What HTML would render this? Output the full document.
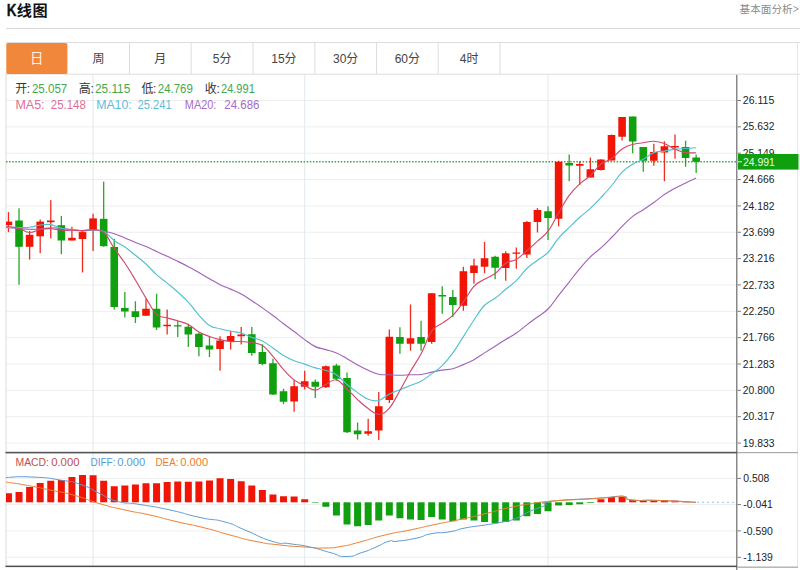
<!DOCTYPE html>
<html><head><meta charset="utf-8"><title>K</title>
<style>html,body{margin:0;padding:0;background:#fff;}body{width:800px;height:570px;overflow:hidden;font-family:"Liberation Sans",sans-serif;}svg{display:block}</style>
</head><body>
<svg width="800" height="570" viewBox="0 0 800 570">
<rect width="800" height="570" fill="#fff"/>
<text x="6.7" y="16.1" font-size="16" fill="#111" text-anchor="start" font-weight="bold" font-family="Liberation Sans, sans-serif" textLength="9.8" lengthAdjust="spacingAndGlyphs" stroke="#111" stroke-width="0.3">K</text>
<text x="16.8 32.6" y="16.3" font-size="15.2" fill="#111" text-anchor="start" font-weight="bold" font-family="'Liberation Sans', 'Noto Sans CJK SC', sans-serif">线图</text>
<text x="739.6" y="13.2" font-size="10.6" fill="#8a8a8a" text-anchor="start" font-weight="normal" font-family="'Liberation Sans', 'Noto Sans CJK SC', sans-serif" textLength="53" lengthAdjust="spacing">基本面分析</text>
<polyline fill="none" stroke="#8a8a8a" stroke-width="0.9" points="793.40,6.3 798.40,8.9 793.40,11.5"/>
<rect x="6" y="28" width="794" height="1" fill="#d9d9d9"/>
<rect x="5.5" y="42" width="794.5" height="1" fill="#dedede"/>
<rect x="5.5" y="73.7" width="794.5" height="1" fill="#dedede"/>
<rect x="67.0" y="42.5" width="1" height="31.5" fill="#dedede"/>
<rect x="129.0" y="42.5" width="1" height="31.5" fill="#dedede"/>
<rect x="190.7" y="42.5" width="1" height="31.5" fill="#dedede"/>
<rect x="252.5" y="42.5" width="1" height="31.5" fill="#dedede"/>
<rect x="314.3" y="42.5" width="1" height="31.5" fill="#dedede"/>
<rect x="376.0" y="42.5" width="1" height="31.5" fill="#dedede"/>
<rect x="437.7" y="42.5" width="1" height="31.5" fill="#dedede"/>
<rect x="499.5" y="42.5" width="1" height="31.5" fill="#dedede"/>
<rect x="797" y="42.5" width="1" height="524" fill="#e6e6e6"/>
<rect x="6.3" y="43" width="60.8" height="31" rx="1.6" fill="#f0873a"/>
<text x="30.05" y="62.7" font-size="13.4" fill="#fff4e6" text-anchor="start" font-weight="normal" font-family="'Liberation Sans', 'Noto Sans CJK SC', sans-serif">日</text>
<text x="92.5" y="62.6" font-size="12" fill="#444" text-anchor="start" font-weight="normal" font-family="'Liberation Sans', 'Noto Sans CJK SC', sans-serif">周</text>
<text x="154.35" y="62.6" font-size="12" fill="#444" text-anchor="start" font-weight="normal" font-family="'Liberation Sans', 'Noto Sans CJK SC', sans-serif">月</text>
<text x="212.76" y="62.8" font-size="12" fill="#444" text-anchor="start" font-weight="normal" font-family="Liberation Sans, sans-serif">5</text>
<text x="219.44" y="62.6" font-size="12" fill="#444" text-anchor="start" font-weight="normal" font-family="'Liberation Sans', 'Noto Sans CJK SC', sans-serif">分</text>
<text x="271.23" y="62.8" font-size="12" fill="#444" text-anchor="start" font-weight="normal" font-family="Liberation Sans, sans-serif">15</text>
<text x="284.57" y="62.6" font-size="12" fill="#444" text-anchor="start" font-weight="normal" font-family="'Liberation Sans', 'Noto Sans CJK SC', sans-serif">分</text>
<text x="332.98" y="62.8" font-size="12" fill="#444" text-anchor="start" font-weight="normal" font-family="Liberation Sans, sans-serif">30</text>
<text x="346.32" y="62.6" font-size="12" fill="#444" text-anchor="start" font-weight="normal" font-family="'Liberation Sans', 'Noto Sans CJK SC', sans-serif">分</text>
<text x="394.68" y="62.8" font-size="12" fill="#444" text-anchor="start" font-weight="normal" font-family="Liberation Sans, sans-serif">60</text>
<text x="408.02" y="62.6" font-size="12" fill="#444" text-anchor="start" font-weight="normal" font-family="'Liberation Sans', 'Noto Sans CJK SC', sans-serif">分</text>
<text x="459.76" y="62.8" font-size="12" fill="#444" text-anchor="start" font-weight="normal" font-family="Liberation Sans, sans-serif">4</text>
<text x="466.44" y="62.6" font-size="12" fill="#444" text-anchor="start" font-weight="normal" font-family="'Liberation Sans', 'Noto Sans CJK SC', sans-serif">时</text>
<rect x="6" y="100.00" width="731" height="1" fill="#eeeeee"/>
<rect x="6" y="126.35" width="731" height="1" fill="#eeeeee"/>
<rect x="6" y="152.70" width="731" height="1" fill="#eeeeee"/>
<rect x="6" y="179.05" width="731" height="1" fill="#eeeeee"/>
<rect x="6" y="205.40" width="731" height="1" fill="#eeeeee"/>
<rect x="6" y="231.75" width="731" height="1" fill="#eeeeee"/>
<rect x="6" y="258.10" width="731" height="1" fill="#eeeeee"/>
<rect x="6" y="284.45" width="731" height="1" fill="#eeeeee"/>
<rect x="6" y="310.80" width="731" height="1" fill="#eeeeee"/>
<rect x="6" y="337.15" width="731" height="1" fill="#eeeeee"/>
<rect x="6" y="363.50" width="731" height="1" fill="#eeeeee"/>
<rect x="6" y="389.85" width="731" height="1" fill="#eeeeee"/>
<rect x="6" y="416.20" width="731" height="1" fill="#eeeeee"/>
<rect x="6" y="442.55" width="731" height="1" fill="#eeeeee"/>
<rect x="6" y="477.90" width="731" height="1" fill="#eeeeee"/>
<rect x="6" y="504.10" width="731" height="1" fill="#eeeeee"/>
<rect x="6" y="530.40" width="731" height="1" fill="#eeeeee"/>
<rect x="6" y="556.80" width="731" height="1" fill="#eeeeee"/>
<rect x="92.59" y="74" width="1" height="493" fill="#dfe9ee"/>
<rect x="304.19" y="74" width="1" height="493" fill="#dfe9ee"/>
<rect x="547.53" y="74" width="1" height="493" fill="#dfe9ee"/>
<rect x="5.5" y="74" width="1" height="493" fill="#dcdcdc"/>
<text x="15.2" y="93.3" font-size="12" fill="#333" text-anchor="start" font-weight="normal" font-family="'Liberation Sans', 'Noto Sans CJK SC', sans-serif">开</text>
<text x="26.799999999999997" y="93.3" font-size="12" fill="#333" text-anchor="start" font-weight="normal" font-family="Liberation Sans, sans-serif">:</text>
<text x="31.9" y="93.4" font-size="12" fill="#46a84e" text-anchor="start" font-weight="normal" font-family="Liberation Sans, sans-serif" textLength="35.4" lengthAdjust="spacingAndGlyphs">25.057</text>
<text x="78.8" y="93.3" font-size="12" fill="#333" text-anchor="start" font-weight="normal" font-family="'Liberation Sans', 'Noto Sans CJK SC', sans-serif">高</text>
<text x="90.39999999999999" y="93.3" font-size="12" fill="#333" text-anchor="start" font-weight="normal" font-family="Liberation Sans, sans-serif">:</text>
<text x="94.9" y="93.4" font-size="12" fill="#46a84e" text-anchor="start" font-weight="normal" font-family="Liberation Sans, sans-serif" textLength="35.4" lengthAdjust="spacingAndGlyphs">25.115</text>
<text x="141.5" y="93.3" font-size="12" fill="#333" text-anchor="start" font-weight="normal" font-family="'Liberation Sans', 'Noto Sans CJK SC', sans-serif">低</text>
<text x="153.1" y="93.3" font-size="12" fill="#333" text-anchor="start" font-weight="normal" font-family="Liberation Sans, sans-serif">:</text>
<text x="157.8" y="93.4" font-size="12" fill="#46a84e" text-anchor="start" font-weight="normal" font-family="Liberation Sans, sans-serif" textLength="35.0" lengthAdjust="spacingAndGlyphs">24.769</text>
<text x="204.8" y="93.3" font-size="12" fill="#333" text-anchor="start" font-weight="normal" font-family="'Liberation Sans', 'Noto Sans CJK SC', sans-serif">收</text>
<text x="216.4" y="93.3" font-size="12" fill="#333" text-anchor="start" font-weight="normal" font-family="Liberation Sans, sans-serif">:</text>
<text x="221.0" y="93.4" font-size="12" fill="#46a84e" text-anchor="start" font-weight="normal" font-family="Liberation Sans, sans-serif" textLength="33.8" lengthAdjust="spacingAndGlyphs">24.991</text>
<text x="15.4" y="109.3" font-size="12" fill="#dd6f96" text-anchor="start" font-weight="normal" font-family="Liberation Sans, sans-serif" textLength="29.2" lengthAdjust="spacingAndGlyphs">MA5:</text>
<text x="50.8" y="109.3" font-size="12" fill="#dd6f96" text-anchor="start" font-weight="normal" font-family="Liberation Sans, sans-serif" textLength="35" lengthAdjust="spacingAndGlyphs">25.148</text>
<text x="96.2" y="109.3" font-size="12" fill="#5fbcd8" text-anchor="start" font-weight="normal" font-family="Liberation Sans, sans-serif" textLength="35.5" lengthAdjust="spacingAndGlyphs">MA10:</text>
<text x="137.5" y="109.3" font-size="12" fill="#5fbcd8" text-anchor="start" font-weight="normal" font-family="Liberation Sans, sans-serif" textLength="34.2" lengthAdjust="spacingAndGlyphs">25.241</text>
<text x="184.8" y="109.3" font-size="12" fill="#a56cc4" text-anchor="start" font-weight="normal" font-family="Liberation Sans, sans-serif" textLength="31.6" lengthAdjust="spacingAndGlyphs">MA20:</text>
<text x="224.3" y="109.3" font-size="12" fill="#a56cc4" text-anchor="start" font-weight="normal" font-family="Liberation Sans, sans-serif" textLength="35.1" lengthAdjust="spacingAndGlyphs">24.686</text>
<clipPath id="c"><rect x="6" y="74" width="731" height="493"/></clipPath>
<g clip-path="url(#c)">
<line x1="6" y1="161.8" x2="737" y2="161.8" stroke="#3aa83a" stroke-width="1.4" stroke-dasharray="1.5 1.6"/>
<rect x="7.80" y="212.10" width="1.3" height="20.00" fill="#f01505" fill-opacity="0.9"/>
<rect x="4.65" y="221.60" width="7.6" height="3.60" fill="#f01505"/>
<rect x="18.38" y="208.30" width="1.3" height="76.40" fill="#0f9f0f" fill-opacity="0.9"/>
<rect x="15.23" y="220.50" width="7.6" height="26.30" fill="#0f9f0f"/>
<rect x="28.96" y="231.00" width="1.3" height="28.50" fill="#f01505" fill-opacity="0.9"/>
<rect x="25.81" y="234.80" width="7.6" height="12.00" fill="#f01505"/>
<rect x="39.54" y="219.50" width="1.3" height="33.70" fill="#f01505" fill-opacity="0.9"/>
<rect x="36.39" y="221.60" width="7.6" height="14.70" fill="#f01505"/>
<rect x="50.12" y="200.10" width="1.3" height="38.30" fill="#f01505" fill-opacity="0.9"/>
<rect x="46.97" y="220.50" width="7.6" height="1.70" fill="#f01505"/>
<rect x="60.70" y="215.90" width="1.3" height="38.30" fill="#0f9f0f" fill-opacity="0.9"/>
<rect x="57.55" y="225.20" width="7.6" height="15.30" fill="#0f9f0f"/>
<rect x="71.28" y="226.80" width="1.3" height="13.70" fill="#f01505" fill-opacity="0.9"/>
<rect x="68.13" y="237.80" width="7.6" height="2.70" fill="#f01505"/>
<rect x="81.86" y="230.00" width="1.3" height="42.50" fill="#f01505" fill-opacity="0.9"/>
<rect x="78.71" y="232.10" width="7.6" height="6.90" fill="#f01505"/>
<rect x="92.44" y="213.80" width="1.3" height="37.20" fill="#f01505" fill-opacity="0.9"/>
<rect x="89.29" y="218.40" width="7.6" height="11.60" fill="#f01505"/>
<rect x="103.02" y="181.60" width="1.3" height="65.20" fill="#0f9f0f" fill-opacity="0.9"/>
<rect x="99.87" y="218.80" width="7.6" height="27.40" fill="#0f9f0f"/>
<rect x="113.60" y="238.75" width="1.3" height="70.75" fill="#0f9f0f" fill-opacity="0.9"/>
<rect x="110.45" y="247.00" width="7.6" height="60.00" fill="#0f9f0f"/>
<rect x="124.18" y="292.00" width="1.3" height="25.50" fill="#0f9f0f" fill-opacity="0.9"/>
<rect x="121.03" y="308.00" width="7.6" height="3.50" fill="#0f9f0f"/>
<rect x="134.76" y="301.25" width="1.3" height="21.75" fill="#0f9f0f" fill-opacity="0.9"/>
<rect x="131.61" y="311.25" width="7.6" height="5.75" fill="#0f9f0f"/>
<rect x="145.34" y="298.75" width="1.3" height="17.00" fill="#f01505" fill-opacity="0.9"/>
<rect x="142.19" y="308.75" width="7.6" height="7.00" fill="#f01505"/>
<rect x="155.92" y="293.75" width="1.3" height="36.25" fill="#0f9f0f" fill-opacity="0.9"/>
<rect x="152.77" y="308.75" width="7.6" height="18.75" fill="#0f9f0f"/>
<rect x="166.50" y="309.50" width="1.3" height="25.00" fill="#f01505" fill-opacity="0.9"/>
<rect x="163.35" y="324.75" width="7.6" height="1.50" fill="#f01505"/>
<rect x="177.08" y="321.25" width="1.3" height="15.75" fill="#0f9f0f" fill-opacity="0.9"/>
<rect x="173.93" y="325.25" width="7.6" height="1.25" fill="#0f9f0f"/>
<rect x="187.66" y="323.75" width="1.3" height="23.25" fill="#0f9f0f" fill-opacity="0.9"/>
<rect x="184.51" y="326.75" width="7.6" height="7.75" fill="#0f9f0f"/>
<rect x="198.24" y="332.50" width="1.3" height="23.75" fill="#0f9f0f" fill-opacity="0.9"/>
<rect x="195.09" y="333.75" width="7.6" height="13.25" fill="#0f9f0f"/>
<rect x="208.82" y="336.25" width="1.3" height="20.75" fill="#0f9f0f" fill-opacity="0.9"/>
<rect x="205.67" y="345.50" width="7.6" height="4.00" fill="#0f9f0f"/>
<rect x="219.40" y="336.25" width="1.3" height="34.50" fill="#f01505" fill-opacity="0.9"/>
<rect x="216.25" y="340.50" width="7.6" height="8.50" fill="#f01505"/>
<rect x="229.98" y="330.75" width="1.3" height="18.75" fill="#f01505" fill-opacity="0.9"/>
<rect x="226.83" y="336.00" width="7.6" height="5.25" fill="#f01505"/>
<rect x="240.56" y="327.00" width="1.3" height="17.50" fill="#f01505" fill-opacity="0.9"/>
<rect x="237.41" y="334.50" width="7.6" height="1.75" fill="#f01505"/>
<rect x="251.14" y="327.00" width="1.3" height="28.75" fill="#0f9f0f" fill-opacity="0.9"/>
<rect x="247.99" y="334.25" width="7.6" height="18.75" fill="#0f9f0f"/>
<rect x="261.72" y="344.25" width="1.3" height="21.00" fill="#0f9f0f" fill-opacity="0.9"/>
<rect x="258.57" y="352.00" width="7.6" height="12.00" fill="#0f9f0f"/>
<rect x="272.30" y="358.75" width="1.3" height="36.25" fill="#0f9f0f" fill-opacity="0.9"/>
<rect x="269.15" y="363.25" width="7.6" height="31.25" fill="#0f9f0f"/>
<rect x="282.88" y="388.75" width="1.3" height="15.50" fill="#0f9f0f" fill-opacity="0.9"/>
<rect x="279.73" y="391.25" width="7.6" height="10.50" fill="#0f9f0f"/>
<rect x="293.46" y="380.00" width="1.3" height="31.75" fill="#f01505" fill-opacity="0.9"/>
<rect x="290.31" y="386.25" width="7.6" height="15.25" fill="#f01505"/>
<rect x="304.04" y="370.75" width="1.3" height="18.75" fill="#f01505" fill-opacity="0.9"/>
<rect x="300.89" y="381.25" width="7.6" height="5.50" fill="#f01505"/>
<rect x="314.62" y="379.50" width="1.3" height="18.50" fill="#0f9f0f" fill-opacity="0.9"/>
<rect x="311.47" y="381.75" width="7.6" height="5.00" fill="#0f9f0f"/>
<rect x="325.20" y="365.50" width="1.3" height="22.50" fill="#f01505" fill-opacity="0.9"/>
<rect x="322.05" y="366.25" width="7.6" height="21.00" fill="#f01505"/>
<rect x="335.78" y="363.75" width="1.3" height="17.00" fill="#0f9f0f" fill-opacity="0.9"/>
<rect x="332.63" y="365.50" width="7.6" height="13.25" fill="#0f9f0f"/>
<rect x="346.36" y="372.50" width="1.3" height="60.50" fill="#0f9f0f" fill-opacity="0.9"/>
<rect x="343.21" y="378.00" width="7.6" height="54.25" fill="#0f9f0f"/>
<rect x="356.94" y="422.50" width="1.3" height="17.00" fill="#0f9f0f" fill-opacity="0.9"/>
<rect x="353.79" y="430.50" width="7.6" height="3.75" fill="#0f9f0f"/>
<rect x="367.52" y="418.75" width="1.3" height="17.00" fill="#f01505" fill-opacity="0.9"/>
<rect x="364.37" y="431.25" width="7.6" height="2.50" fill="#f01505"/>
<rect x="378.10" y="392.00" width="1.3" height="48.00" fill="#f01505" fill-opacity="0.9"/>
<rect x="374.95" y="406.25" width="7.6" height="24.25" fill="#f01505"/>
<rect x="388.68" y="329.50" width="1.3" height="73.50" fill="#f01505" fill-opacity="0.9"/>
<rect x="385.53" y="336.75" width="7.6" height="63.25" fill="#f01505"/>
<rect x="399.26" y="327.25" width="1.3" height="26.50" fill="#0f9f0f" fill-opacity="0.9"/>
<rect x="396.11" y="337.00" width="7.6" height="6.75" fill="#0f9f0f"/>
<rect x="409.84" y="304.50" width="1.3" height="46.25" fill="#f01505" fill-opacity="0.9"/>
<rect x="406.69" y="338.25" width="7.6" height="5.50" fill="#f01505"/>
<rect x="420.42" y="320.75" width="1.3" height="30.00" fill="#0f9f0f" fill-opacity="0.9"/>
<rect x="417.27" y="337.00" width="7.6" height="6.75" fill="#0f9f0f"/>
<rect x="431.00" y="293.00" width="1.3" height="50.75" fill="#f01505" fill-opacity="0.9"/>
<rect x="427.85" y="293.25" width="7.6" height="48.75" fill="#f01505"/>
<rect x="441.58" y="286.25" width="1.3" height="27.50" fill="#0f9f0f" fill-opacity="0.9"/>
<rect x="438.43" y="295.00" width="7.6" height="1.50" fill="#0f9f0f"/>
<rect x="452.16" y="290.00" width="1.3" height="27.00" fill="#0f9f0f" fill-opacity="0.9"/>
<rect x="449.01" y="297.00" width="7.6" height="8.00" fill="#0f9f0f"/>
<rect x="462.74" y="266.75" width="1.3" height="44.00" fill="#f01505" fill-opacity="0.9"/>
<rect x="459.59" y="271.25" width="7.6" height="34.50" fill="#f01505"/>
<rect x="473.32" y="258.75" width="1.3" height="25.00" fill="#f01505" fill-opacity="0.9"/>
<rect x="470.17" y="265.50" width="7.6" height="7.50" fill="#f01505"/>
<rect x="483.90" y="242.00" width="1.3" height="31.25" fill="#f01505" fill-opacity="0.9"/>
<rect x="480.75" y="258.25" width="7.6" height="8.50" fill="#f01505"/>
<rect x="494.48" y="255.75" width="1.3" height="23.50" fill="#0f9f0f" fill-opacity="0.9"/>
<rect x="491.33" y="256.75" width="7.6" height="11.00" fill="#0f9f0f"/>
<rect x="505.06" y="251.25" width="1.3" height="29.50" fill="#f01505" fill-opacity="0.9"/>
<rect x="501.91" y="253.25" width="7.6" height="14.75" fill="#f01505"/>
<rect x="515.64" y="247.50" width="1.3" height="21.25" fill="#f01505" fill-opacity="0.9"/>
<rect x="512.49" y="252.50" width="7.6" height="1.25" fill="#f01505"/>
<rect x="526.22" y="221.00" width="1.3" height="37.00" fill="#f01505" fill-opacity="0.9"/>
<rect x="523.07" y="222.00" width="7.6" height="32.50" fill="#f01505"/>
<rect x="536.80" y="208.00" width="1.3" height="24.50" fill="#f01505" fill-opacity="0.9"/>
<rect x="533.65" y="210.00" width="7.6" height="12.00" fill="#f01505"/>
<rect x="547.38" y="206.25" width="1.3" height="33.75" fill="#0f9f0f" fill-opacity="0.9"/>
<rect x="544.23" y="211.25" width="7.6" height="6.75" fill="#0f9f0f"/>
<rect x="557.96" y="160.75" width="1.3" height="65.50" fill="#f01505" fill-opacity="0.9"/>
<rect x="554.81" y="161.75" width="7.6" height="57.00" fill="#f01505"/>
<rect x="568.54" y="154.50" width="1.3" height="26.75" fill="#0f9f0f" fill-opacity="0.9"/>
<rect x="565.39" y="163.00" width="7.6" height="2.50" fill="#0f9f0f"/>
<rect x="579.12" y="161.25" width="1.3" height="23.75" fill="#f01505" fill-opacity="0.9"/>
<rect x="575.97" y="164.00" width="7.6" height="1.75" fill="#f01505"/>
<rect x="589.70" y="157.50" width="1.3" height="20.00" fill="#f01505" fill-opacity="0.9"/>
<rect x="586.55" y="169.25" width="7.6" height="8.25" fill="#f01505"/>
<rect x="600.28" y="159.25" width="1.3" height="11.25" fill="#f01505" fill-opacity="0.9"/>
<rect x="597.13" y="159.50" width="7.6" height="10.50" fill="#f01505"/>
<rect x="610.86" y="134.50" width="1.3" height="26.00" fill="#f01505" fill-opacity="0.9"/>
<rect x="607.71" y="135.00" width="7.6" height="25.50" fill="#f01505"/>
<rect x="621.44" y="117.00" width="1.3" height="23.50" fill="#f01505" fill-opacity="0.9"/>
<rect x="618.29" y="117.00" width="7.6" height="19.75" fill="#f01505"/>
<rect x="632.02" y="116.50" width="1.3" height="36.75" fill="#0f9f0f" fill-opacity="0.9"/>
<rect x="628.87" y="116.50" width="7.6" height="25.00" fill="#0f9f0f"/>
<rect x="642.60" y="147.00" width="1.3" height="24.75" fill="#0f9f0f" fill-opacity="0.9"/>
<rect x="639.45" y="147.00" width="7.6" height="13.75" fill="#0f9f0f"/>
<rect x="653.18" y="143.75" width="1.3" height="22.00" fill="#f01505" fill-opacity="0.9"/>
<rect x="650.03" y="152.00" width="7.6" height="8.75" fill="#f01505"/>
<rect x="663.76" y="141.25" width="1.3" height="40.00" fill="#f01505" fill-opacity="0.9"/>
<rect x="660.61" y="146.25" width="7.6" height="6.25" fill="#f01505"/>
<rect x="674.34" y="134.50" width="1.3" height="24.25" fill="#f01505" fill-opacity="0.9"/>
<rect x="671.19" y="146.00" width="7.6" height="1.50" fill="#f01505"/>
<rect x="684.92" y="140.75" width="1.3" height="26.00" fill="#0f9f0f" fill-opacity="0.9"/>
<rect x="681.77" y="147.00" width="7.6" height="11.00" fill="#0f9f0f"/>
<rect x="695.50" y="154.50" width="1.3" height="18.50" fill="#0f9f0f" fill-opacity="0.9"/>
<rect x="692.35" y="157.50" width="7.6" height="4.25" fill="#0f9f0f"/>
<path fill="none" stroke="#a362ba" stroke-width="1.15" d="M6.00,227.50C6.49,227.52 5.84,227.40 8.45,227.60C11.06,227.80 14.80,228.16 19.03,228.50C23.26,228.84 25.38,229.20 29.61,229.30C33.84,229.40 35.96,229.30 40.19,229.00C44.42,228.70 46.54,227.90 50.77,227.80C55.00,227.70 57.12,228.14 61.35,228.50C65.58,228.86 67.70,229.18 71.93,229.60C76.16,230.02 78.28,230.48 82.51,230.60C86.74,230.72 88.86,230.08 93.09,230.20C97.32,230.32 99.44,230.49 103.67,231.20C107.90,231.91 110.02,232.39 114.25,233.74C118.48,235.09 120.60,236.20 124.83,237.94C129.06,239.68 131.18,240.71 135.41,242.42C139.64,244.12 141.76,244.67 145.99,246.48C150.22,248.29 152.34,249.50 156.57,251.48C160.80,253.45 162.92,254.38 167.15,256.34C171.38,258.30 173.50,259.23 177.73,261.29C181.96,263.35 184.08,264.38 188.31,266.64C192.54,268.90 194.66,270.20 198.89,272.62C203.12,275.03 205.24,276.31 209.47,278.72C213.70,281.12 215.82,282.58 220.05,284.66C224.28,286.74 226.40,287.23 230.63,289.12C234.86,291.01 236.98,291.79 241.21,294.11C245.44,296.42 247.56,297.93 251.79,300.68C256.02,303.42 258.14,304.88 262.37,307.85C266.60,310.83 268.72,312.37 272.95,315.55C277.18,318.73 279.30,320.57 283.53,323.75C287.76,326.93 289.88,328.29 294.11,331.46C298.34,334.63 300.46,336.56 304.69,339.60C308.92,342.63 311.04,344.63 315.27,346.62C319.50,348.62 321.62,348.32 325.85,349.59C330.08,350.85 332.20,351.12 336.43,352.95C340.66,354.77 342.78,356.30 347.01,358.71C351.24,361.12 353.36,362.69 357.59,364.99C361.82,367.28 363.94,368.32 368.17,370.18C372.40,372.03 374.52,373.33 378.75,374.25C382.98,375.17 385.10,374.57 389.33,374.76C393.56,374.96 395.68,375.22 399.91,375.23C404.14,375.23 406.26,374.93 410.49,374.79C414.72,374.64 416.84,375.03 421.07,374.50C425.30,373.97 427.42,373.00 431.65,372.14C435.88,371.27 438.00,370.85 442.23,370.16C446.46,369.47 448.58,369.80 452.81,368.69C457.04,367.57 459.16,366.40 463.39,364.60C467.62,362.80 469.74,362.02 473.97,359.68C478.20,357.33 480.32,355.56 484.55,352.86C488.78,350.16 490.90,348.83 495.13,346.16C499.36,343.49 501.48,342.13 505.71,339.51C509.94,336.89 512.06,336.01 516.29,333.07C520.52,330.14 522.64,328.05 526.87,324.84C531.10,321.63 533.22,320.19 537.45,317.02C541.68,313.85 543.80,313.30 548.03,308.99C552.26,304.68 554.38,300.85 558.61,295.46C562.84,290.07 564.96,287.38 569.19,282.02C573.42,276.66 575.54,273.71 579.77,268.66C584.00,263.62 586.12,260.95 590.35,256.81C594.58,252.67 596.70,251.81 600.93,247.95C605.16,244.09 607.28,241.81 611.51,237.51C615.74,233.21 617.86,230.68 622.09,226.45C626.32,222.22 628.44,219.69 632.67,216.34C636.90,212.99 639.02,212.48 643.25,209.71C647.48,206.94 649.60,205.52 653.83,202.49C658.06,199.46 660.18,197.39 664.41,194.55C668.64,191.71 670.76,190.62 674.99,188.29C679.22,185.96 681.34,184.95 685.57,182.91C689.80,180.87 694.03,179.05 696.15,178.09"/>
<path fill="none" stroke="#52c0d0" stroke-width="1.15" d="M6.00,227.50C6.49,227.46 5.84,227.30 8.45,227.30C11.06,227.30 14.80,227.50 19.03,227.50C23.26,227.50 25.38,227.80 29.61,227.30C33.84,226.80 35.96,225.54 40.19,225.00C44.42,224.46 46.54,223.94 50.77,224.60C55.00,225.26 57.12,227.26 61.35,228.30C65.58,229.34 67.70,229.34 71.93,229.80C76.16,230.26 78.28,230.50 82.51,230.60C86.74,230.70 88.86,230.10 93.09,230.30C97.32,230.50 99.44,229.55 103.67,231.60C107.90,233.65 110.02,237.48 114.25,240.57C118.48,243.66 120.60,244.10 124.83,247.04C129.06,249.98 131.18,251.87 135.41,255.26C139.64,258.65 141.76,260.09 145.99,263.98C150.22,267.86 152.34,270.85 156.57,274.68C160.80,278.50 162.92,279.64 167.15,283.10C171.38,286.56 173.50,288.15 177.73,291.97C181.96,295.79 184.08,297.59 188.31,302.21C192.54,306.83 194.66,310.43 198.89,315.07C203.12,319.71 205.24,322.66 209.47,325.40C213.70,328.14 215.82,327.59 220.05,328.75C224.28,329.91 226.40,330.36 230.63,331.20C234.86,332.04 236.98,331.71 241.21,332.95C245.44,334.19 247.56,335.76 251.79,337.38C256.02,338.99 258.14,338.90 262.37,341.02C266.60,343.15 268.72,345.10 272.95,348.00C277.18,350.90 279.30,352.98 283.53,355.52C287.76,358.06 289.88,358.98 294.11,360.70C298.34,362.42 300.46,362.69 304.69,364.12C308.92,365.56 311.04,366.59 315.27,367.85C319.50,369.11 321.62,369.06 325.85,370.43C330.08,371.80 332.20,371.89 336.43,374.70C340.66,377.51 342.78,380.90 347.01,384.48C351.24,388.06 353.36,389.63 357.59,392.60C361.82,395.57 363.94,397.75 368.17,399.32C372.40,400.90 374.52,401.56 378.75,400.50C382.98,399.44 385.10,396.15 389.33,394.00C393.56,391.85 395.68,391.46 399.91,389.75C404.14,388.04 406.26,387.17 410.49,385.45C414.72,383.73 416.84,383.47 421.07,381.15C425.30,378.83 427.42,376.96 431.65,373.85C435.88,370.75 438.00,369.81 442.23,365.62C446.46,361.44 448.58,358.70 452.81,352.90C457.04,347.09 459.16,343.18 463.39,336.60C467.62,330.03 469.74,326.30 473.97,320.02C478.20,313.75 480.32,309.56 484.55,305.23C488.78,300.89 490.90,301.51 495.13,298.32C499.36,295.13 501.48,292.80 505.71,289.27C509.94,285.75 512.06,284.85 516.29,280.70C520.52,276.55 522.64,272.62 526.87,268.52C531.10,264.42 533.22,263.44 537.45,260.20C541.68,256.96 543.80,256.78 548.03,252.35C552.26,247.91 554.38,243.00 558.61,238.03C562.84,233.05 564.96,231.59 569.19,227.45C573.42,223.30 575.54,221.11 579.77,217.30C584.00,213.49 586.12,212.34 590.35,208.40C594.58,204.46 596.70,202.10 600.93,197.57C605.16,193.04 607.28,190.82 611.51,185.75C615.74,180.68 617.86,176.52 622.09,172.20C626.32,167.88 628.44,166.75 632.67,164.15C636.90,161.56 639.02,161.53 643.25,159.22C647.48,156.92 649.60,154.25 653.83,152.62C658.06,151.00 660.18,151.77 664.41,151.07C668.64,150.38 670.76,149.63 674.99,149.12C679.22,148.62 681.34,148.80 685.57,148.53C689.80,148.25 694.03,147.93 696.15,147.78"/>
<path fill="none" stroke="#d04a6a" stroke-width="1.15" d="M6.00,227.50C6.49,227.30 5.84,226.30 8.45,226.50C11.06,226.70 14.80,227.30 19.03,228.50C23.26,229.70 25.38,232.30 29.61,232.50C33.84,232.70 35.96,230.26 40.19,229.50C44.42,228.74 46.54,228.54 50.77,228.70C55.00,228.86 57.12,230.00 61.35,230.30C65.58,230.60 67.70,230.14 71.93,230.20C76.16,230.26 78.28,230.68 82.51,230.60C86.74,230.52 88.86,229.46 93.09,229.80C97.32,230.14 99.44,228.60 103.67,232.30C107.90,236.00 110.02,242.15 114.25,248.30C118.48,254.45 120.60,256.70 124.83,263.04C129.06,269.38 131.18,273.01 135.41,280.02C139.64,287.03 141.76,291.22 145.99,298.09C150.22,304.96 152.34,310.39 156.57,314.35C160.80,318.31 162.92,316.59 167.15,317.90C171.38,319.21 173.50,319.60 177.73,320.90C181.96,322.20 184.08,322.17 188.31,324.40C192.54,326.63 194.66,329.64 198.89,332.05C203.12,334.46 205.24,334.94 209.47,336.45C213.70,337.96 215.82,338.59 220.05,339.60C224.28,340.61 226.40,341.12 230.63,341.50C234.86,341.88 236.98,341.26 241.21,341.50C245.44,341.74 247.56,341.88 251.79,342.70C256.02,343.52 258.14,342.86 262.37,345.60C266.60,348.34 268.72,351.61 272.95,356.40C277.18,361.19 279.30,364.85 283.53,369.55C287.76,374.25 289.88,376.70 294.11,379.90C298.34,383.10 300.46,383.51 304.69,385.55C308.92,387.59 311.04,390.32 315.27,390.10C319.50,389.88 321.62,386.50 325.85,384.45C330.08,382.40 332.20,378.93 336.43,379.85C340.66,380.77 342.78,385.09 347.01,389.05C351.24,393.01 353.36,395.75 357.59,399.65C361.82,403.55 363.94,405.62 368.17,408.55C372.40,411.48 374.52,414.38 378.75,414.30C382.98,414.22 385.10,412.92 389.33,408.15C393.56,403.38 395.68,397.83 399.91,390.45C404.14,383.07 406.26,378.59 410.49,371.25C414.72,363.91 416.84,361.77 421.07,353.75C425.30,345.73 427.42,337.28 431.65,331.15C435.88,325.02 438.00,326.26 442.23,323.10C446.46,319.94 448.58,319.58 452.81,315.35C457.04,311.12 459.16,307.76 463.39,301.95C467.62,296.14 469.74,290.83 473.97,286.30C478.20,281.77 480.32,281.85 484.55,279.30C488.78,276.75 490.90,276.77 495.13,273.55C499.36,270.33 501.48,266.02 505.71,263.20C509.94,260.38 512.06,261.94 516.29,259.45C520.52,256.96 522.64,254.42 526.87,250.75C531.10,247.08 533.22,245.02 537.45,241.10C541.68,237.18 543.80,236.80 548.03,231.15C552.26,225.50 554.38,219.99 558.61,212.85C562.84,205.71 564.96,201.25 569.19,195.45C573.42,189.65 575.54,187.80 579.77,183.85C584.00,179.90 586.12,179.67 590.35,175.70C594.58,171.73 596.70,167.41 600.93,164.00C605.16,160.59 607.28,161.66 611.51,158.65C615.74,155.64 617.86,151.79 622.09,148.95C626.32,146.11 628.44,145.69 632.67,144.45C636.90,143.21 639.02,143.39 643.25,142.75C647.48,142.11 649.60,141.10 653.83,141.25C658.06,141.40 660.18,141.89 664.41,143.50C668.64,145.11 670.76,147.48 674.99,149.30C679.22,151.12 681.34,151.90 685.57,152.60C689.80,153.30 694.03,152.76 696.15,152.80"/>
<rect x="4.95" y="493.25" width="7.0" height="9.05" fill="#f01505"/>
<rect x="15.53" y="492.00" width="7.0" height="10.30" fill="#f01505"/>
<rect x="26.11" y="487.00" width="7.0" height="15.30" fill="#f01505"/>
<rect x="36.69" y="483.00" width="7.0" height="19.30" fill="#f01505"/>
<rect x="47.27" y="480.75" width="7.0" height="21.55" fill="#f01505"/>
<rect x="57.85" y="480.00" width="7.0" height="22.30" fill="#f01505"/>
<rect x="68.43" y="477.00" width="7.0" height="25.30" fill="#f01505"/>
<rect x="79.01" y="475.00" width="7.0" height="27.30" fill="#f01505"/>
<rect x="89.59" y="475.25" width="7.0" height="27.05" fill="#f01505"/>
<rect x="100.17" y="480.75" width="7.0" height="21.55" fill="#f01505"/>
<rect x="110.75" y="486.25" width="7.0" height="16.05" fill="#f01505"/>
<rect x="121.33" y="485.50" width="7.0" height="16.80" fill="#f01505"/>
<rect x="131.91" y="484.50" width="7.0" height="17.80" fill="#f01505"/>
<rect x="142.49" y="483.25" width="7.0" height="19.05" fill="#f01505"/>
<rect x="153.07" y="483.25" width="7.0" height="19.05" fill="#f01505"/>
<rect x="163.65" y="482.00" width="7.0" height="20.30" fill="#f01505"/>
<rect x="174.23" y="481.50" width="7.0" height="20.80" fill="#f01505"/>
<rect x="184.81" y="481.75" width="7.0" height="20.55" fill="#f01505"/>
<rect x="195.39" y="481.50" width="7.0" height="20.80" fill="#f01505"/>
<rect x="205.97" y="480.50" width="7.0" height="21.80" fill="#f01505"/>
<rect x="216.55" y="478.25" width="7.0" height="24.05" fill="#f01505"/>
<rect x="227.13" y="479.00" width="7.0" height="23.30" fill="#f01505"/>
<rect x="237.71" y="481.25" width="7.0" height="21.05" fill="#f01505"/>
<rect x="248.29" y="485.50" width="7.0" height="16.80" fill="#f01505"/>
<rect x="258.87" y="490.00" width="7.0" height="12.30" fill="#f01505"/>
<rect x="269.45" y="494.50" width="7.0" height="7.80" fill="#f01505"/>
<rect x="280.03" y="496.25" width="7.0" height="6.05" fill="#f01505"/>
<rect x="290.61" y="496.50" width="7.0" height="5.80" fill="#f01505"/>
<rect x="301.19" y="499.25" width="7.0" height="3.05" fill="#f01505"/>
<rect x="311.77" y="502.30" width="7.0" height="0.50" fill="#0f9f0f"/>
<rect x="322.35" y="502.30" width="7.0" height="4.45" fill="#0f9f0f"/>
<rect x="332.93" y="502.30" width="7.0" height="13.20" fill="#0f9f0f"/>
<rect x="343.51" y="502.30" width="7.0" height="22.20" fill="#0f9f0f"/>
<rect x="354.09" y="502.30" width="7.0" height="23.95" fill="#0f9f0f"/>
<rect x="364.67" y="502.30" width="7.0" height="22.70" fill="#0f9f0f"/>
<rect x="375.25" y="502.30" width="7.0" height="18.20" fill="#0f9f0f"/>
<rect x="385.83" y="502.30" width="7.0" height="13.20" fill="#0f9f0f"/>
<rect x="396.41" y="502.30" width="7.0" height="15.95" fill="#0f9f0f"/>
<rect x="406.99" y="502.30" width="7.0" height="17.20" fill="#0f9f0f"/>
<rect x="417.57" y="502.30" width="7.0" height="17.70" fill="#0f9f0f"/>
<rect x="428.15" y="502.30" width="7.0" height="14.70" fill="#0f9f0f"/>
<rect x="438.73" y="502.30" width="7.0" height="17.20" fill="#0f9f0f"/>
<rect x="449.31" y="502.30" width="7.0" height="18.95" fill="#0f9f0f"/>
<rect x="459.89" y="502.30" width="7.0" height="17.20" fill="#0f9f0f"/>
<rect x="470.47" y="502.30" width="7.0" height="18.20" fill="#0f9f0f"/>
<rect x="481.05" y="502.30" width="7.0" height="19.70" fill="#0f9f0f"/>
<rect x="491.63" y="502.30" width="7.0" height="20.95" fill="#0f9f0f"/>
<rect x="502.21" y="502.30" width="7.0" height="19.70" fill="#0f9f0f"/>
<rect x="512.79" y="502.30" width="7.0" height="18.20" fill="#0f9f0f"/>
<rect x="523.37" y="502.30" width="7.0" height="13.95" fill="#0f9f0f"/>
<rect x="533.95" y="502.30" width="7.0" height="11.70" fill="#0f9f0f"/>
<rect x="544.53" y="502.30" width="7.0" height="8.95" fill="#0f9f0f"/>
<rect x="555.11" y="502.30" width="7.0" height="3.20" fill="#0f9f0f"/>
<rect x="565.69" y="502.30" width="7.0" height="2.70" fill="#0f9f0f"/>
<rect x="576.27" y="502.30" width="7.0" height="1.95" fill="#0f9f0f"/>
<rect x="586.85" y="502.30" width="7.0" height="0.70" fill="#0f9f0f"/>
<rect x="597.43" y="499.25" width="7.0" height="3.05" fill="#f01505"/>
<rect x="608.01" y="497.00" width="7.0" height="5.30" fill="#f01505"/>
<rect x="618.59" y="496.75" width="7.0" height="5.55" fill="#f01505"/>
<rect x="629.17" y="500.00" width="7.0" height="2.30" fill="#f01505"/>
<rect x="639.75" y="500.75" width="7.0" height="1.55" fill="#f01505"/>
<rect x="650.33" y="500.50" width="7.0" height="1.80" fill="#f01505"/>
<rect x="660.91" y="500.00" width="7.0" height="2.30" fill="#f01505"/>
<rect x="671.49" y="500.75" width="7.0" height="1.55" fill="#f01505"/>
<rect x="682.07" y="501.60" width="7.0" height="0.70" fill="#f01505"/>
<path fill="none" stroke="#5b9bd5" stroke-width="1.0" d="M5.50,477.50C14.33,477.33 13.83,476.17 32.00,477.00C50.17,477.83 43.33,477.33 60.00,480.00C76.67,482.67 68.67,480.42 82.00,485.00C95.33,489.58 88.33,488.33 100.00,493.75C111.67,499.17 103.67,497.67 117.00,501.25C130.33,504.83 122.33,501.58 140.00,504.50C157.67,507.42 150.00,505.67 170.00,510.00C190.00,514.33 181.67,513.50 200.00,517.50C218.33,521.50 210.00,517.83 225.00,522.00C240.00,526.17 229.33,523.58 245.00,530.00C260.67,536.42 257.00,536.67 272.00,541.25C287.00,545.83 277.33,541.83 290.00,543.75C302.67,545.67 296.67,544.08 310.00,547.00C323.33,549.92 318.00,549.33 330.00,552.50C342.00,555.67 335.33,556.50 346.00,556.50C356.67,556.50 352.33,555.50 362.00,552.50C371.67,549.50 366.00,551.25 375.00,547.50C384.00,543.75 381.67,543.33 389.00,541.25C396.33,539.17 387.67,542.33 397.00,541.25C406.33,540.17 405.67,540.50 417.00,538.00C428.33,535.50 420.00,535.83 431.00,533.75C442.00,531.67 438.67,533.67 450.00,531.75C461.33,529.83 453.33,530.25 465.00,528.00C476.67,525.75 473.33,526.83 485.00,525.00C496.67,523.17 490.00,524.58 500.00,522.50C510.00,520.42 505.00,522.50 515.00,518.75C525.00,515.00 520.00,515.67 530.00,511.25C540.00,506.83 538.33,508.75 545.00,505.50C551.67,502.25 531.67,504.00 550.00,501.50C568.33,499.00 578.33,499.67 600.00,498.00C621.67,496.33 606.67,497.00 615.00,496.50C623.33,496.00 619.33,495.33 625.00,496.50C630.67,497.67 620.33,498.67 632.00,500.00C643.67,501.33 638.67,499.73 660.00,500.50C681.33,501.27 684.00,501.70 696.00,502.30"/>
<path fill="none" stroke="#ed7d31" stroke-width="1.0" d="M5.50,482.00C12.00,483.00 10.17,482.33 25.00,485.00C39.83,487.67 33.33,486.50 50.00,490.00C66.67,493.50 58.33,490.92 75.00,495.50C91.67,500.08 83.33,498.92 100.00,503.75C116.67,508.58 108.33,506.25 125.00,510.00C141.67,513.75 133.33,511.25 150.00,515.00C166.67,518.75 156.67,516.92 175.00,521.25C193.33,525.58 186.67,523.42 205.00,528.00C223.33,532.58 213.33,530.58 230.00,535.00C246.67,539.42 238.33,537.92 255.00,541.25C271.67,544.58 263.33,543.08 280.00,545.00C296.67,546.92 290.00,546.00 305.00,547.00C320.00,548.00 312.67,548.25 325.00,548.00C337.33,547.75 330.33,548.25 342.00,546.25C353.67,544.25 345.67,545.75 360.00,542.00C374.33,538.25 368.33,539.00 385.00,535.00C401.67,531.00 393.33,533.50 410.00,530.00C426.67,526.50 418.33,528.00 435.00,524.50C451.67,521.00 443.33,523.08 460.00,519.50C476.67,515.92 468.33,517.75 485.00,513.75C501.67,509.75 493.33,511.08 510.00,507.50C526.67,503.92 523.33,504.90 535.00,503.00C546.67,501.10 536.67,502.63 545.00,501.80C553.33,500.97 542.67,501.60 560.00,500.50C577.33,499.40 578.67,499.67 597.00,498.50C615.33,497.33 605.67,497.50 615.00,497.00C624.33,496.50 619.33,496.00 625.00,497.00C630.67,498.00 620.33,498.83 632.00,500.00C643.67,501.17 638.67,499.73 660.00,500.50C681.33,501.27 684.00,501.70 696.00,502.30"/>
<line x1="697" y1="502.4" x2="737" y2="502.4" stroke="#a9d3ea" stroke-width="1.2" stroke-dasharray="2 3"/>
</g>
<text x="15.5" y="466.2" font-size="11.5" fill="#c0504d" text-anchor="start" font-weight="normal" font-family="Liberation Sans, sans-serif" textLength="33.5" lengthAdjust="spacingAndGlyphs">MACD:</text>
<text x="51.2" y="466.2" font-size="11.5" fill="#c0504d" text-anchor="start" font-weight="normal" font-family="Liberation Sans, sans-serif" textLength="28.3" lengthAdjust="spacingAndGlyphs">0.000</text>
<text x="90.5" y="466.2" font-size="11.5" fill="#5b9bd5" text-anchor="start" font-weight="normal" font-family="Liberation Sans, sans-serif" textLength="25" lengthAdjust="spacingAndGlyphs">DIFF:</text>
<text x="117.2" y="466.2" font-size="11.5" fill="#5b9bd5" text-anchor="start" font-weight="normal" font-family="Liberation Sans, sans-serif" textLength="28" lengthAdjust="spacingAndGlyphs">0.000</text>
<text x="155.5" y="466.2" font-size="11.5" fill="#ed7d31" text-anchor="start" font-weight="normal" font-family="Liberation Sans, sans-serif" textLength="23" lengthAdjust="spacingAndGlyphs">DEA:</text>
<text x="180.2" y="466.2" font-size="11.5" fill="#ed7d31" text-anchor="start" font-weight="normal" font-family="Liberation Sans, sans-serif" textLength="28" lengthAdjust="spacingAndGlyphs">0.000</text>
<rect x="736.1" y="74.8" width="1.35" height="495.2" fill="#7c7c7c"/>
<rect x="5.5" y="451.8" width="732" height="1.6" fill="#555"/>
<rect x="737" y="452" width="61" height="1.2" fill="#aaa"/>
<rect x="5.5" y="565.6" width="731.5" height="1.5" fill="#4d4d4d"/>
<rect x="737.4" y="566.6" width="60.6" height="1.1" fill="#9a9a9a"/>
<rect x="737.5" y="100.00" width="3.4" height="1" fill="#777"/>
<text x="742.8" y="104.10" font-size="11.5" fill="#222" text-anchor="start" font-weight="normal" font-family="Liberation Sans, sans-serif" textLength="31.6" lengthAdjust="spacingAndGlyphs">26.115</text>
<rect x="737.5" y="126.35" width="3.4" height="1" fill="#777"/>
<text x="742.8" y="130.45" font-size="11.5" fill="#222" text-anchor="start" font-weight="normal" font-family="Liberation Sans, sans-serif" textLength="31.6" lengthAdjust="spacingAndGlyphs">25.632</text>
<rect x="737.5" y="152.70" width="3.4" height="1" fill="#777"/>
<text x="742.8" y="156.80" font-size="11.5" fill="#222" text-anchor="start" font-weight="normal" font-family="Liberation Sans, sans-serif" textLength="31.6" lengthAdjust="spacingAndGlyphs">25.149</text>
<rect x="737.5" y="179.05" width="3.4" height="1" fill="#777"/>
<text x="742.8" y="183.15" font-size="11.5" fill="#222" text-anchor="start" font-weight="normal" font-family="Liberation Sans, sans-serif" textLength="31.6" lengthAdjust="spacingAndGlyphs">24.666</text>
<rect x="737.5" y="205.40" width="3.4" height="1" fill="#777"/>
<text x="742.8" y="209.50" font-size="11.5" fill="#222" text-anchor="start" font-weight="normal" font-family="Liberation Sans, sans-serif" textLength="31.6" lengthAdjust="spacingAndGlyphs">24.182</text>
<rect x="737.5" y="231.75" width="3.4" height="1" fill="#777"/>
<text x="742.8" y="235.85" font-size="11.5" fill="#222" text-anchor="start" font-weight="normal" font-family="Liberation Sans, sans-serif" textLength="31.6" lengthAdjust="spacingAndGlyphs">23.699</text>
<rect x="737.5" y="258.10" width="3.4" height="1" fill="#777"/>
<text x="742.8" y="262.20" font-size="11.5" fill="#222" text-anchor="start" font-weight="normal" font-family="Liberation Sans, sans-serif" textLength="31.6" lengthAdjust="spacingAndGlyphs">23.216</text>
<rect x="737.5" y="284.45" width="3.4" height="1" fill="#777"/>
<text x="742.8" y="288.55" font-size="11.5" fill="#222" text-anchor="start" font-weight="normal" font-family="Liberation Sans, sans-serif" textLength="31.6" lengthAdjust="spacingAndGlyphs">22.733</text>
<rect x="737.5" y="310.80" width="3.4" height="1" fill="#777"/>
<text x="742.8" y="314.90" font-size="11.5" fill="#222" text-anchor="start" font-weight="normal" font-family="Liberation Sans, sans-serif" textLength="31.6" lengthAdjust="spacingAndGlyphs">22.250</text>
<rect x="737.5" y="337.15" width="3.4" height="1" fill="#777"/>
<text x="742.8" y="341.25" font-size="11.5" fill="#222" text-anchor="start" font-weight="normal" font-family="Liberation Sans, sans-serif" textLength="31.6" lengthAdjust="spacingAndGlyphs">21.766</text>
<rect x="737.5" y="363.50" width="3.4" height="1" fill="#777"/>
<text x="742.8" y="367.60" font-size="11.5" fill="#222" text-anchor="start" font-weight="normal" font-family="Liberation Sans, sans-serif" textLength="31.6" lengthAdjust="spacingAndGlyphs">21.283</text>
<rect x="737.5" y="389.85" width="3.4" height="1" fill="#777"/>
<text x="742.8" y="393.95" font-size="11.5" fill="#222" text-anchor="start" font-weight="normal" font-family="Liberation Sans, sans-serif" textLength="31.6" lengthAdjust="spacingAndGlyphs">20.800</text>
<rect x="737.5" y="416.20" width="3.4" height="1" fill="#777"/>
<text x="742.8" y="420.30" font-size="11.5" fill="#222" text-anchor="start" font-weight="normal" font-family="Liberation Sans, sans-serif" textLength="31.6" lengthAdjust="spacingAndGlyphs">20.317</text>
<rect x="737.5" y="442.55" width="3.4" height="1" fill="#777"/>
<text x="742.8" y="446.65" font-size="11.5" fill="#222" text-anchor="start" font-weight="normal" font-family="Liberation Sans, sans-serif" textLength="31.6" lengthAdjust="spacingAndGlyphs">19.833</text>
<rect x="737.5" y="477.90" width="3.4" height="1" fill="#777"/>
<text x="743.3" y="482.00" font-size="11.5" fill="#222" text-anchor="start" font-weight="normal" font-family="Liberation Sans, sans-serif" textLength="26" lengthAdjust="spacingAndGlyphs">0.508</text>
<rect x="737.5" y="504.10" width="3.4" height="1" fill="#777"/>
<text x="743.3" y="508.20" font-size="11.5" fill="#222" text-anchor="start" font-weight="normal" font-family="Liberation Sans, sans-serif" textLength="29.5" lengthAdjust="spacingAndGlyphs">-0.041</text>
<rect x="737.5" y="530.40" width="3.4" height="1" fill="#777"/>
<text x="743.3" y="534.50" font-size="11.5" fill="#222" text-anchor="start" font-weight="normal" font-family="Liberation Sans, sans-serif" textLength="29.5" lengthAdjust="spacingAndGlyphs">-0.590</text>
<rect x="737.5" y="556.80" width="3.4" height="1" fill="#777"/>
<text x="743.3" y="560.90" font-size="11.5" fill="#222" text-anchor="start" font-weight="normal" font-family="Liberation Sans, sans-serif" textLength="29.5" lengthAdjust="spacingAndGlyphs">-1.139</text>
<rect x="738" y="154" width="60.5" height="15.6" fill="#0f9f0f"/>
<rect x="738" y="161.3" width="4" height="1" fill="#cfe"/>
<text x="743" y="165.9" font-size="11" fill="#e6ffe6" text-anchor="start" font-weight="normal" font-family="Liberation Sans, sans-serif" textLength="31.8" lengthAdjust="spacingAndGlyphs">24.991</text>
</svg>
</body></html>
